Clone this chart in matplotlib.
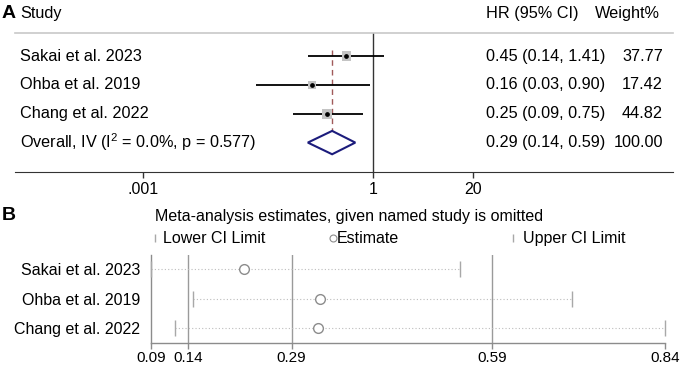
import matplotlib
matplotlib.use('Agg')
import matplotlib.pyplot as plt
from matplotlib.patches import Polygon
import matplotlib.transforms as mtransforms

plt.rcParams['font.family'] = ['Liberation Sans', 'DejaVu Sans']
plt.rcParams['mathtext.fontset'] = 'custom'
plt.rcParams['mathtext.rm'] = 'Liberation Sans'
plt.rcParams['mathtext.it'] = 'Liberation Sans:italic'

# panel A data
studies = ['Sakai et al. 2023', 'Ohba et al. 2019', 'Chang et al. 2022']
hr = [0.45, 0.16, 0.25]
hr_lo = [0.14, 0.03, 0.09]
hr_hi = [1.41, 0.90, 0.75]
weights = [37.77, 17.42, 44.82]
overall_label = r'Overall, IV (I$^{2}$ = 0.0%, p = 0.577)'
overall = [0.1412, 0.2928, 0.5872]   # lower, estimate, upper
overall_weight = 100.00
a_ticks = [0.001, 1, 20]
a_ticklabels = ['.001', '1', '20']

# panel B data (estimate with named study omitted)
omit_est = [0.223, 0.334, 0.332]
omit_lo = [0.0866, 0.148, 0.1225]
omit_hi = [0.5401, 0.7043, 0.8406]

fig = plt.figure(figsize=(6.85, 3.67), dpi=100)
W, H = 685, 367
fs = 11.7
fsb = 11.5

# ---------------- panel A
axA = fig.add_axes([15 / W, 1 - 172 / H, 658 / W, 139 / H])
axA.set_xscale('log')
axA.set_xlim(10 ** -4.67, 10 ** 3.913)
axA.set_ylim(5.02, 0.2)
rows = list(range(1, len(studies) + 1))
orow = len(studies) + 1

for s in ['left', 'right']:
    axA.spines[s].set_visible(False)
axA.spines['top'].set_color('#c8c8c8')
axA.spines['top'].set_linewidth(1.2)
axA.spines['bottom'].set_color('#333333')
axA.set_yticks([])
axA.set_xticks(a_ticks)
axA.set_xticklabels(a_ticklabels)
axA.minorticks_off()
axA.tick_params(axis='x', length=4, width=1, color='#333333', labelsize=11.5, pad=3)

axA.axvline(1, color='#333333', lw=1)
axA.vlines(overall[1], 0.8, 4.43, colors='#a05a5a', linestyles=(0, (4, 3)), lw=1)
axA.hlines(rows, hr_lo, hr_hi, color='black', lw=1.3, zorder=2)
sizes = [(0.72 * (3.2 + 0.97 * w ** 0.5)) ** 2 for w in weights]
axA.scatter(hr, rows, marker='s', s=sizes, color='#c4c4c4', zorder=3, linewidths=0)
axA.plot(hr, rows, 'o', ms=2.4, color='black', zorder=4)
diamond = Polygon([(overall[0], orow), (overall[1], orow - 0.405),
                   (overall[2], orow), (overall[1], orow + 0.405)],
                  closed=True, facecolor='white', edgecolor='#1c1c7c', lw=1.5, zorder=3)
axA.add_patch(diamond)

trA = mtransforms.blended_transform_factory(axA.transAxes, axA.transData)
x_name, x_hr, x_w = 5 / 658, 471 / 658, 648 / 658
for r, name, h, l, u, w in zip(rows, studies, hr, hr_lo, hr_hi, weights):
    axA.text(x_name, r, name, transform=trA, va='center', fontsize=fs)
    axA.text(x_hr, r, f'{h:.2f} ({l:.2f}, {u:.2f})', transform=trA, va='center', fontsize=fs)
    axA.text(x_w, r, f'{w:.2f}', transform=trA, va='center', ha='right', fontsize=fs)
axA.text(x_name, orow, overall_label, transform=trA, va='center', fontsize=fs)
axA.text(x_hr, orow, f'{overall[1]:.2f} ({overall[0]:.2f}, {overall[2]:.2f})',
         transform=trA, va='center', fontsize=fs)
axA.text(x_w, orow, f'{overall_weight:.2f}', transform=trA, va='center', ha='right', fontsize=fs)

axA.text(x_name, -0.49, 'Study', transform=trA, va='center', fontsize=fs)
axA.text(x_hr, -0.49, 'HR (95% CI)', transform=trA, va='center', fontsize=fs)
axA.text(645 / 658, -0.49, 'Weight%', transform=trA, va='center', ha='right', fontsize=fs)
fig.text(2 / W, 1 - 13 / H, 'A', fontsize=14, fontweight='bold', va='center')

# ---------------- panel B
axB = fig.add_axes([151 / W, 1 - 343 / H, 514 / W, 88 / H])
axB.set_xlim(min(omit_lo), max(omit_hi))
axB.set_ylim(3.49, 0.54)
for s in ['top', 'right']:
    axB.spines[s].set_visible(False)
for s in ['left', 'bottom']:
    axB.spines[s].set_color('#8c8c8c')
    axB.spines[s].set_linewidth(1)

for v in overall:
    axB.axvline(v, color='#9a9a9a', lw=1)
axB.hlines(rows, omit_lo, omit_hi, color='#bdbdbd', linestyles=(0, (1, 2)), lw=0.8)
axB.plot(omit_lo, rows, '|', ms=11, mew=1, color='#a8a8a8', clip_on=False, zorder=3)
axB.plot(omit_hi, rows, '|', ms=11, mew=1, color='#a8a8a8', clip_on=False, zorder=3)
axB.plot(omit_est, rows, 'o', ms=7, mfc='white', mec='#8c8c8c', mew=1, zorder=4)

axB.set_yticks(rows)
axB.set_yticklabels(studies)
axB.tick_params(axis='y', length=0, pad=8, labelsize=fsb)
b_ticks = [min(omit_lo)] + overall + [max(omit_hi)]
axB.set_xticks(b_ticks)
axB.set_xticklabels([f'{v:.2f}' for v in b_ticks])
axB.tick_params(axis='x', length=4, width=1, color='#8c8c8c', labelsize=11, pad=1.5)

axB.text(4 / 514, 1.432, 'Meta-analysis estimates, given named study is omitted',
         transform=axB.transAxes, va='center', fontsize=fsb)
ly = 1.193
axB.plot([4 / 514], [ly], '|', ms=6, color='#a8a8a8', transform=axB.transAxes, clip_on=False)
axB.text(12 / 514, ly, 'Lower CI Limit', transform=axB.transAxes, va='center', fontsize=fsb)
axB.plot([182 / 514], [ly], 'o', ms=5, mfc='white', mec='#8c8c8c', mew=0.8,
         transform=axB.transAxes, clip_on=False)
axB.text(186 / 514, ly, 'Estimate', transform=axB.transAxes, va='center', fontsize=fsb)
axB.plot([362 / 514], [ly], '|', ms=6, color='#a8a8a8', transform=axB.transAxes, clip_on=False)
axB.text(372 / 514, ly, 'Upper CI Limit', transform=axB.transAxes, va='center', fontsize=fsb)
fig.text(2 / W, 1 - 215 / H, 'B', fontsize=14, fontweight='bold', va='center')

fig.savefig('out.png', dpi=100)
